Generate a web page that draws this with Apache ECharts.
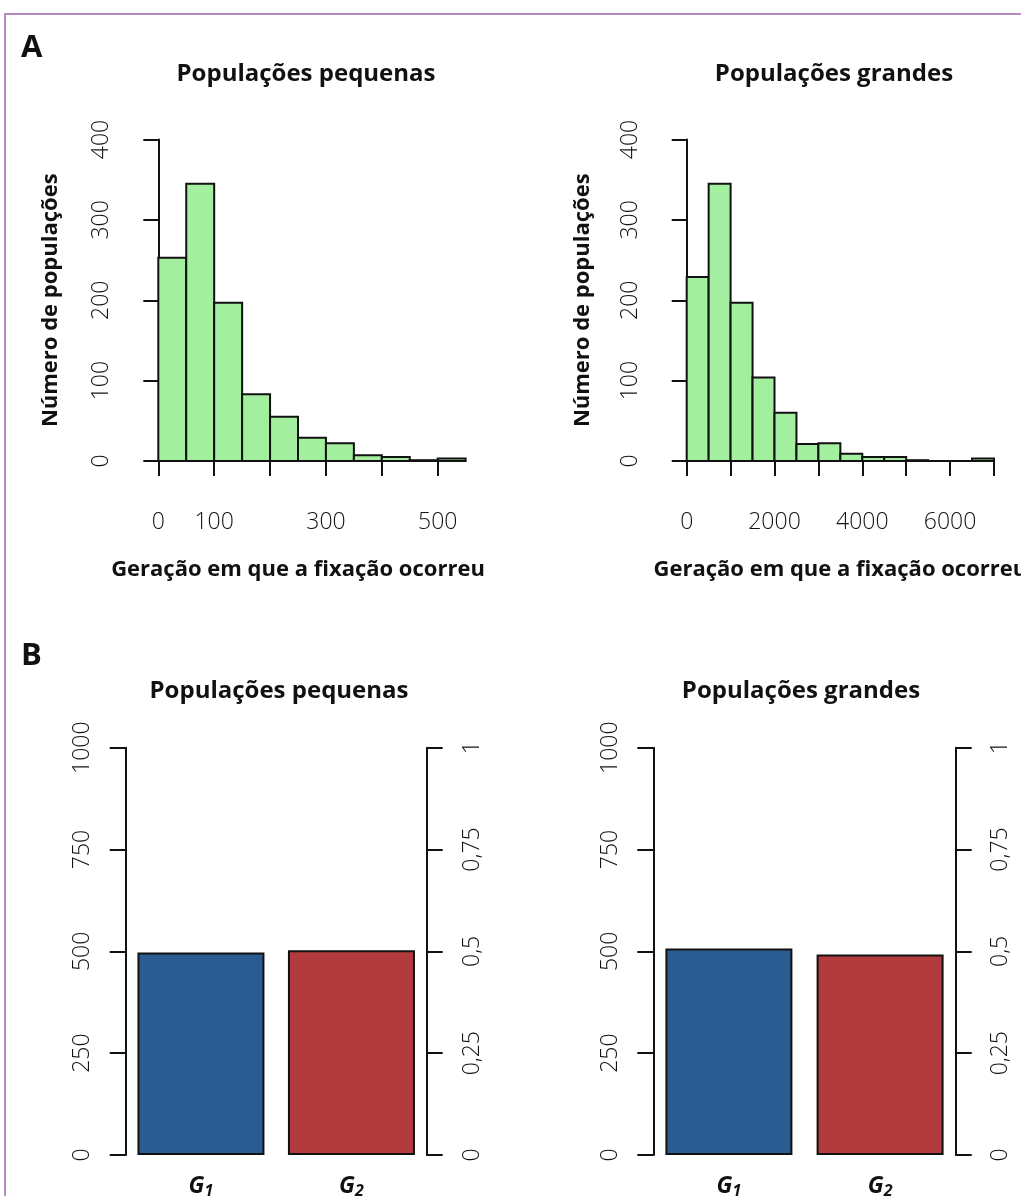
<!DOCTYPE html>
<html><head><meta charset="utf-8">
<script src="https://cdn.jsdelivr.net/npm/echarts@6/dist/echarts.min.js"></script>
<style>html,body{margin:0;padding:0;background:#fff}#c{width:1021px;height:1196px}</style>
</head><body><div id="c"></div>
<script>
// ---- data ----
const smallBreaks = [0, 50, 100, 150, 200, 250, 300, 350, 400, 450, 500, 550];
const smallCounts = [253, 345, 197, 83, 55, 29, 22, 7, 5, 1, 3];
const largeBreaks = [0, 500, 1000, 1500, 2000, 2500, 3000, 3500, 4000, 4500, 5000, 5500, 6000, 6500, 7000];
const largeCounts = [229, 345, 197, 104, 60, 21, 22, 9, 5, 5, 1, 0, 0, 3];
const smallXLabels = [0, 100, 300, 500];
const largeXLabels = [0, 2000, 4000, 6000];
const groups = ['G1', 'G2'];
const groupSub = ['1', '2'];
const smallFixations = [497, 503];
const largeFixations = [507, 492];
const panelTitles = ['Populações pequenas', 'Populações grandes'];

const FONT = "'Open Sans', 'Noto Sans', sans-serif";
const INK = '#111';
const GREEN = '#a3ef9f';
const BLUE = '#2a5c92';
const RED = '#b43b3d';

function histData(breaks, counts) {
  return counts.map((c, i) => [breaks[i], breaks[i + 1], c]);
}
function histItem(params, api) {
  const p0 = api.coord([api.value(0), api.value(2)]);
  const p1 = api.coord([api.value(1), 0]);
  return {
    type: 'rect',
    shape: { x: p0[0], y: p0[1], width: p1[0] - p0[0], height: p1[1] - p0[1] },
    style: { fill: GREEN, stroke: INK, lineWidth: 2 }
  };
}
const lineStyle = { color: INK, width: 2 };
const labelStyle = { color: INK, fontSize: 23, fontFamily: FONT, fontWeight: 300 };
const nameStyle = { color: INK, fontSize: 22, fontWeight: 'bold', fontFamily: FONT };

function histX(grid, max, interval, shown, name) {
  return {
    type: 'value', gridIndex: grid, min: 0, max: max, interval: interval,
    position: 'bottom', offset: 14,
    axisLine: { show: true, lineStyle: lineStyle },
    axisTick: { show: true, length: 15, lineStyle: lineStyle },
    splitLine: { show: false },
    axisLabel: Object.assign({ margin: 36, showMinLabel: true, showMaxLabel: true,
      formatter: v => shown.includes(v) ? String(v) : '' }, labelStyle),
    name: name, nameLocation: 'middle', nameGap: 84, nameTextStyle: nameStyle
  };
}
function histY(grid, offset, margin, nameGap) {
  return {
    type: 'value', gridIndex: grid, min: 0, max: 400, interval: 100,
    position: 'left', offset: offset,
    axisLine: { show: true, lineStyle: lineStyle },
    axisTick: { show: true, length: 15, lineStyle: lineStyle },
    splitLine: { show: false },
    axisLabel: Object.assign({ rotate: 90, margin: margin, showMinLabel: true, showMaxLabel: true,
      formatter: v => String(v) }, labelStyle),
    name: 'Número de populações', nameLocation: 'middle', nameGap: nameGap, nameRotate: 90,
    nameTextStyle: nameStyle
  };
}
function barLeftY(grid, margin) {
  return {
    type: 'value', gridIndex: grid, min: 0, max: 1000, interval: 250, position: 'left',
    axisLine: { show: true, lineStyle: lineStyle },
    axisTick: { show: true, length: 16, lineStyle: lineStyle },
    splitLine: { show: false },
    axisLabel: Object.assign({ rotate: 90, margin: margin, showMinLabel: true, showMaxLabel: true,
      formatter: v => String(v) }, labelStyle)
  };
}
function barRightY(grid, margin) {
  return {
    type: 'value', gridIndex: grid, min: 0, max: 1, interval: 0.25, position: 'right',
    axisLine: { show: true, lineStyle: lineStyle },
    axisTick: { show: true, length: 16, lineStyle: lineStyle },
    splitLine: { show: false },
    axisLabel: Object.assign({ rotate: 90, margin: margin, showMinLabel: true, showMaxLabel: true,
      formatter: v => String(v).replace('.', ',') }, labelStyle)
  };
}
function barX(grid) {
  return {
    type: 'category', gridIndex: grid, data: groups, boundaryGap: true,
    axisLine: { show: false }, axisTick: { show: false },
    axisLabel: {
      margin: 18,
      formatter: (v, i) => '{g|G}{s|' + groupSub[i] + '}',
      rich: {
        g: { fontSize: 23, fontWeight: 'bold', fontStyle: 'italic', color: INK, fontFamily: FONT, lineHeight: 26 },
        s: { fontSize: 16, fontWeight: 'bold', fontStyle: 'italic', color: INK, fontFamily: FONT, lineHeight: 22, verticalAlign: 'bottom' }
      }
    }
  };
}
function barSeries(xi, yi, values) {
  return {
    type: 'bar', xAxisIndex: xi, yAxisIndex: yi, barWidth: 127,
    data: values.map((v, i) => ({ value: v, itemStyle: { color: i === 0 ? BLUE : RED } })),
    itemStyle: { borderColor: INK, borderWidth: 2 }
  };
}
const titleStyle = { color: INK, fontSize: 24, fontWeight: 'bold', fontFamily: FONT };

const option = {
  animation: false,
  backgroundColor: '#fff',
  title: [
    { text: panelTitles[0], left: 301, top: 57, textAlign: 'center', textStyle: titleStyle },
    { text: panelTitles[1], left: 829, top: 57, textAlign: 'center', textStyle: titleStyle },
    { text: panelTitles[0], left: 274, top: 674, textAlign: 'center', textStyle: titleStyle },
    { text: panelTitles[1], left: 796, top: 674, textAlign: 'center', textStyle: titleStyle }
  ],
  graphic: [
    { type: 'rect', shape: { x: 5, y: 14, width: 1200, height: 1300 },
      style: { fill: 'none', stroke: '#b48ac0', lineWidth: 2 }, silent: true },
    { type: 'text', left: 21, top: 33, style: { text: 'A', fontSize: 31, fontWeight: 'bold', fontFamily: FONT, fill: INK } },
    { type: 'text', left: 21, top: 641, style: { text: 'B', fontSize: 31, fontWeight: 'bold', fontFamily: FONT, fill: INK } }
  ],
  grid: [
    { left: 158.3, top: 139.5, width: 279.4, height: 321.5, outerBoundsMode: 'none' },
    { left: 686.7, top: 139.5, width: 307.3, height: 321.5, outerBoundsMode: 'none' },
    { left: 125.7, top: 747.7, width: 301, height: 407.3, outerBoundsMode: 'none' },
    { left: 653.3, top: 747.7, width: 302.4, height: 407.3, outerBoundsMode: 'none' }
  ],
  xAxis: [
    histX(0, 500, 100, smallXLabels, 'Geração em que a fixação ocorreu'),
    histX(1, 7000, 1000, largeXLabels, 'Geração em que a fixação ocorreu'),
    barX(2),
    barX(3)
  ],
  yAxis: [
    histY(0, 12.6, 33, 84),
    histY(1, 13.4, 31, 80),
    barLeftY(2, 32),
    barRightY(2, 34),
    barLeftY(3, 31),
    barRightY(3, 33)
  ],
  series: [
    { type: 'custom', xAxisIndex: 0, yAxisIndex: 0, clip: false, renderItem: histItem,
      encode: { x: [0, 1], y: 2 }, data: histData(smallBreaks, smallCounts) },
    { type: 'custom', xAxisIndex: 1, yAxisIndex: 1, clip: false, renderItem: histItem,
      encode: { x: [0, 1], y: 2 }, data: histData(largeBreaks, largeCounts) },
    barSeries(2, 2, smallFixations),
    barSeries(3, 4, largeFixations)
  ]
};
const chart = echarts.init(document.getElementById('c'), null, { renderer: 'canvas' });
chart.setOption(option);
</script>
</body></html>
